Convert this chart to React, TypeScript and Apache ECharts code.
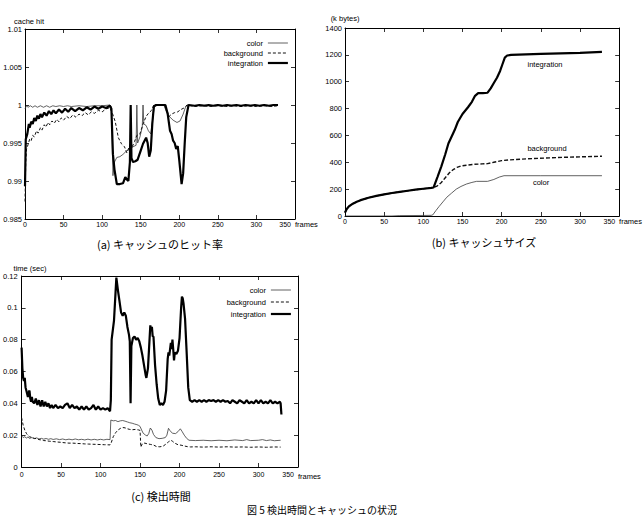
import { useEffect, useRef } from 'react';
import * as echarts from 'echarts';

type P = [number, number];

// ---------- (a) cache hit ratio ----------
const hitColor: P[] = [
  [0, 0.9995], [2, 0.9999], [4, 0.9997], [7, 0.9999], [10, 0.9997], [13, 0.9999], [16, 0.9997], [20, 0.9999],
  [24, 0.9997], [28, 0.9999], [32, 0.9997], [36, 0.9999], [40, 0.9998], [45, 0.9999], [50, 0.9998], [55, 0.9999],
  [60, 0.9998], [70, 0.9999], [80, 0.9998], [90, 0.9999], [100, 0.9999], [110, 1.0], [112, 0.9998], [114, 0.9907],
  [116, 0.9925], [119, 0.9931], [123, 0.9932], [127, 0.9935], [132, 0.994], [136, 0.9942], [140, 0.9945], [144, 0.9947],
  [145, 1.0], [146, 0.995], [149, 0.9958], [152, 0.9971], [153, 1.0], [154, 0.9975], [157, 0.9973], [160, 0.9966],
  [163, 0.9962], [166, 0.9985], [168, 1.0], [180, 1.0], [183, 0.9992], [187, 0.9985], [192, 0.998], [197, 0.9977],
  [201, 0.9979], [205, 0.9988], [208, 0.9997], [211, 1.0], [220, 0.9999], [230, 1.0], [240, 0.9999], [250, 1.0],
  [260, 0.9999], [270, 1.0], [280, 0.9999], [290, 1.0], [300, 0.9999], [310, 1.0], [320, 0.9999], [328, 1.0],
];
const hitBackground: P[] = [
  [0, 0.9873], [1, 0.9925], [2, 0.9942], [4, 0.9948], [6, 0.9955], [8, 0.9953], [10, 0.996], [12, 0.9958],
  [15, 0.9966], [17, 0.9963], [20, 0.997], [22, 0.9967], [25, 0.9974], [27, 0.9971], [30, 0.9977], [32, 0.9974],
  [35, 0.9979], [38, 0.9976], [41, 0.9981], [44, 0.9978], [47, 0.9983], [50, 0.998], [54, 0.9985], [58, 0.9982],
  [62, 0.9987], [66, 0.9984], [70, 0.9988], [74, 0.9986], [78, 0.999], [82, 0.9987], [86, 0.9991], [90, 0.9989],
  [95, 0.9993], [100, 0.9991], [105, 0.9995], [110, 0.9996], [113, 0.999], [117, 0.9978], [121, 0.9957], [125, 0.9949],
  [129, 0.9945], [132, 0.9937], [134, 0.9942], [136, 0.9948], [139, 0.9945], [142, 0.9952], [145, 0.996], [149, 0.9962],
  [153, 0.9975], [157, 0.9985], [160, 0.9989], [164, 0.9993], [167, 1.0], [180, 1.0], [183, 0.9995], [187, 0.9985],
  [190, 0.9988], [194, 0.999], [198, 0.9991], [202, 0.9994], [206, 0.9996], [210, 1.0], [220, 0.9998], [230, 0.9999],
  [240, 0.9998], [250, 0.9999], [260, 0.9998], [270, 0.9999], [280, 0.9998], [290, 0.9999], [300, 0.9998], [310, 0.9999],
  [320, 0.9998], [328, 0.9999],
];
const hitIntegration: P[] = [
  [0, 0.9893], [1, 0.9955], [3, 0.9962], [5, 0.9975], [6, 0.997], [8, 0.9978], [10, 0.9975], [12, 0.9983],
  [14, 0.9979], [16, 0.9986], [18, 0.9982], [20, 0.9988], [22, 0.9984], [25, 0.999], [28, 0.9986], [31, 0.9992],
  [34, 0.9988], [37, 0.9993], [40, 0.9989], [44, 0.9994], [48, 0.999], [52, 0.9995], [56, 0.9991], [60, 0.9996],
  [65, 0.9992], [70, 0.9996], [75, 0.9993], [80, 0.9997], [85, 0.9994], [90, 0.9998], [95, 0.9995], [100, 0.9998],
  [105, 0.9996], [110, 0.9999], [112, 0.9995], [114, 0.9935], [116, 0.9915], [119, 0.9896], [123, 0.9896], [127, 0.9897],
  [130, 0.9905], [132, 0.9902], [134, 0.99], [136, 0.9925], [137, 1.0], [138, 0.993], [140, 0.9925], [143, 0.9926],
  [146, 0.9928], [150, 0.994], [153, 0.9949], [157, 0.9957], [159, 0.995], [161, 0.9932], [163, 0.994], [165, 0.9975],
  [167, 0.9998], [170, 1.0], [182, 1.0], [185, 0.9988], [188, 0.9966], [190, 0.9962], [192, 0.9953], [194, 0.995],
  [196, 0.9942], [198, 0.9946], [200, 0.9927], [203, 0.9896], [205, 0.991], [207, 0.9949], [209, 0.9984], [212, 1.0],
  [220, 0.9999], [226, 1.0], [232, 0.9999], [238, 1.0], [244, 0.9999], [250, 1.0], [256, 0.9999], [262, 1.0],
  [268, 0.9999], [274, 1.0], [280, 0.9999], [286, 1.0], [292, 0.9999], [298, 1.0], [304, 0.9999], [310, 1.0],
  [316, 0.9999], [322, 1.0], [328, 1.0],
];

// ---------- (b) cache size (k bytes) ----------
const sizeColor: P[] = [
  [0, 0], [60, 0], [70, 3], [100, 4], [110, 5], [112, 8], [116, 40], [120, 70], [125, 105], [130, 140], [136, 170],
  [142, 200], [148, 220], [155, 238], [162, 250], [168, 258], [182, 258], [190, 272], [197, 290], [203, 300],
  [250, 300], [328, 300],
];
const sizeBackground: P[] = [
  [0, 25], [2, 50], [5, 72], [10, 92], [15, 106], [20, 118], [30, 136], [40, 150], [50, 161], [60, 171], [70, 180],
  [80, 188], [90, 196], [100, 203], [110, 209], [113, 212], [118, 225], [123, 250], [128, 285], [133, 320], [138, 345],
  [143, 362], [148, 372], [155, 378], [165, 385], [175, 388], [182, 390], [190, 400], [200, 412], [210, 418],
  [240, 428], [280, 437], [328, 445],
];
const sizeIntegration: P[] = [
  [0, 25], [2, 50], [5, 72], [10, 92], [15, 106], [20, 118], [30, 136], [40, 150], [50, 161], [60, 171], [70, 180],
  [80, 188], [90, 196], [100, 203], [110, 209], [113, 212], [118, 290], [123, 370], [128, 460], [132, 540], [136, 590],
  [140, 640], [144, 700], [150, 760], [157, 810], [162, 850], [166, 895], [170, 915], [176, 915], [182, 918],
  [186, 950], [190, 990], [194, 1030], [198, 1080], [201, 1130], [204, 1180], [207, 1195], [212, 1200], [250, 1207],
  [300, 1215], [328, 1222],
];

// ---------- (c) detection time (sec) ----------
const timeColor: P[] = [
  [0, 0.0195], [2, 0.0185], [4, 0.019], [6, 0.0182], [8, 0.0188], [10, 0.018], [13, 0.0185], [16, 0.0178],
  [19, 0.0183], [22, 0.0176], [25, 0.018], [28, 0.0175], [31, 0.0179], [34, 0.0174], [37, 0.0178], [40, 0.0173],
  [44, 0.0177], [48, 0.0172], [52, 0.0176], [56, 0.0171], [60, 0.0175], [64, 0.0171], [68, 0.0176], [72, 0.0171],
  [76, 0.0174], [80, 0.017], [84, 0.0175], [88, 0.017], [92, 0.0174], [96, 0.017], [100, 0.0174], [104, 0.017],
  [108, 0.0174], [112, 0.0172], [113, 0.0295], [116, 0.029], [119, 0.0292], [122, 0.0285], [125, 0.029], [128, 0.0292],
  [131, 0.0288], [134, 0.0283], [137, 0.0278], [140, 0.0275], [143, 0.027], [146, 0.0266], [148, 0.0262], [150, 0.0255],
  [152, 0.0232], [154, 0.0212], [157, 0.02], [159, 0.0195], [161, 0.021], [163, 0.0245], [165, 0.0232], [167, 0.0205],
  [170, 0.0185], [174, 0.0178], [178, 0.018], [182, 0.0185], [184, 0.02], [186, 0.0243], [188, 0.0228], [191, 0.0212],
  [195, 0.021], [198, 0.0222], [201, 0.024], [203, 0.0225], [206, 0.02], [209, 0.018], [212, 0.0168], [220, 0.0166],
  [230, 0.0168], [240, 0.0165], [250, 0.0168], [260, 0.0165], [270, 0.017], [280, 0.0166], [285, 0.0172], [290, 0.0166],
  [300, 0.0168], [305, 0.0172], [310, 0.0166], [315, 0.017], [320, 0.0165], [328, 0.0168],
];
const timeBackground: P[] = [
  [0, 0.031], [2, 0.0262], [4, 0.0232], [6, 0.0212], [8, 0.0198], [10, 0.019], [13, 0.0186], [16, 0.018],
  [19, 0.0178], [22, 0.0172], [25, 0.017], [28, 0.0166], [31, 0.0165], [35, 0.0162], [40, 0.016], [45, 0.0157],
  [50, 0.0155], [55, 0.0152], [60, 0.015], [65, 0.015], [70, 0.0148], [75, 0.0147], [80, 0.0145], [85, 0.0144],
  [90, 0.0143], [95, 0.0142], [100, 0.0141], [105, 0.014], [112, 0.0139], [113, 0.0145], [116, 0.019], [119, 0.0215],
  [122, 0.0232], [125, 0.0242], [128, 0.0248], [131, 0.0246], [134, 0.024], [137, 0.0236], [140, 0.0234], [144, 0.0236],
  [148, 0.0233], [150, 0.023], [151, 0.0125], [153, 0.0148], [156, 0.015], [159, 0.0146], [163, 0.0142], [167, 0.0138],
  [171, 0.0128], [175, 0.0127], [179, 0.013], [183, 0.0145], [186, 0.0158], [189, 0.0168], [191, 0.0162], [194, 0.015],
  [198, 0.014], [202, 0.0137], [206, 0.0132], [210, 0.0128], [214, 0.0126], [220, 0.0127], [230, 0.0125], [240, 0.0127],
  [250, 0.0125], [260, 0.0127], [270, 0.0125], [280, 0.0126], [290, 0.0124], [300, 0.0126], [310, 0.0124], [320, 0.0126],
  [328, 0.0125],
];
const timeIntegration: P[] = [
  [0, 0.075], [1, 0.062], [2, 0.056], [3, 0.054], [4, 0.056], [5, 0.05], [6, 0.048], [7, 0.046], [8, 0.044],
  [9, 0.047], [10, 0.048], [11, 0.043], [12, 0.041], [13, 0.044], [14, 0.041], [16, 0.04], [18, 0.043], [20, 0.039],
  [22, 0.042], [24, 0.038], [26, 0.042], [28, 0.038], [30, 0.041], [32, 0.038], [34, 0.04], [36, 0.037], [38, 0.039],
  [40, 0.037], [43, 0.039], [46, 0.037], [49, 0.038], [52, 0.037], [55, 0.039], [58, 0.04], [61, 0.037], [64, 0.039],
  [67, 0.037], [70, 0.038], [73, 0.036], [76, 0.038], [79, 0.036], [82, 0.038], [85, 0.036], [88, 0.037], [91, 0.039],
  [94, 0.036], [97, 0.038], [100, 0.036], [103, 0.037], [106, 0.036], [109, 0.037], [112, 0.035], [113, 0.042],
  [114, 0.08], [117, 0.092], [119, 0.11], [120, 0.119], [122, 0.111], [124, 0.104], [126, 0.097], [128, 0.095],
  [130, 0.097], [132, 0.095], [134, 0.088], [136, 0.083], [137, 0.079], [138, 0.04], [139, 0.076], [141, 0.081],
  [143, 0.082], [145, 0.08], [147, 0.081], [149, 0.079], [151, 0.075], [153, 0.07], [155, 0.064], [157, 0.058],
  [158, 0.056], [160, 0.062], [162, 0.08], [163, 0.089], [164, 0.086], [165, 0.088], [166, 0.082], [167, 0.082],
  [169, 0.064], [171, 0.052], [173, 0.043], [175, 0.039], [177, 0.04], [179, 0.039], [181, 0.041], [183, 0.048],
  [185, 0.068], [186, 0.072], [187, 0.07], [189, 0.078], [190, 0.074], [191, 0.08], [192, 0.074], [193, 0.067],
  [194, 0.072], [196, 0.071], [198, 0.073], [200, 0.081], [202, 0.1], [203, 0.107], [204, 0.106], [205, 0.103],
  [207, 0.093], [209, 0.072], [211, 0.05], [213, 0.042], [216, 0.041], [219, 0.042], [222, 0.041], [225, 0.042],
  [228, 0.041], [231, 0.042], [234, 0.041], [237, 0.042], [240, 0.0415], [243, 0.042], [246, 0.041], [249, 0.042],
  [252, 0.041], [255, 0.042], [258, 0.041], [261, 0.0415], [264, 0.04], [267, 0.042], [270, 0.041], [273, 0.04],
  [276, 0.042], [279, 0.041], [282, 0.04], [285, 0.042], [288, 0.04], [291, 0.041], [294, 0.04], [297, 0.042],
  [300, 0.04], [303, 0.042], [306, 0.04], [309, 0.041], [312, 0.04], [315, 0.042], [318, 0.04], [321, 0.041],
  [324, 0.04], [327, 0.041], [328, 0.04], [329, 0.033],
];

const seriesNames = ['color', 'background', 'integration'];
const captionA = '(a) キャッシュのヒット率';
const captionB = '(b) キャッシュサイズ';
const captionC = '(c) 検出時間';
const captionFig = '図 5 検出時間とキャッシュの状況';

const FONT = '"Liberation Sans", Arial, Helvetica, sans-serif';
const JP = '"Noto Sans CJK JP", "Noto Sans CJK SC", sans-serif';

const thin = { color: '#3a3a3a', width: 0.8 };
const dashed = { color: '#111', width: 1, type: [3, 2] as number[] };
const thick = { color: '#000', width: 2.2 };

interface AxisCfg {
  g: number;
  yMin: number;
  yMax: number;
  yInt: number;
  yName: string;
  yNameGap: number;
  yNamePad: number[];
  yNameAlign: string;
  xNameGap: number;
  xNamePadTop: number;
  xLabelMargin: number;
  yLabelMargin: number;
  plainY?: boolean;
}

function buildAxes(c: AxisCfg) {
  const common = {
    gridIndex: c.g,
    type: 'value',
    splitLine: { show: false },
    axisLine: { show: true, onZero: false, lineStyle: { color: '#000', width: 1 } },
    axisTick: { show: true, inside: true, length: 4, lineStyle: { color: '#000', width: 0.8 } },
  };
  const xCommon = { ...common, min: 0, max: 350, interval: 50 };
  const yCommon = { ...common, min: c.yMin, max: c.yMax, interval: c.yInt };
  const yLabel: any = { fontFamily: FONT, fontSize: 7.5, color: '#000', margin: c.yLabelMargin };
  if (c.plainY) yLabel.formatter = (v: number) => String(v);
  const xAxes = [
    {
      ...xCommon,
      position: 'bottom',
      name: 'frames',
      nameLocation: 'end',
      nameGap: c.xNameGap,
      nameTextStyle: {
        fontFamily: FONT, fontSize: 7.5, color: '#000', align: 'left', verticalAlign: 'top',
        padding: [c.xNamePadTop, 0, 0, 0],
      },
      axisLabel: {
        fontFamily: FONT, fontSize: 7, color: '#000', margin: c.xLabelMargin, alignMaxLabel: 'right',
        formatter: (v: number) => (v === 350 ? '{m|350}' : String(v)),
        rich: { m: { fontFamily: FONT, fontSize: 7, color: '#000', padding: [0, 4, 0, 0] } },
      },
    },
    { ...xCommon, position: 'top', axisLabel: { show: false } },
  ];
  const yAxes = [
    {
      ...yCommon,
      position: 'left',
      name: c.yName,
      nameLocation: 'end',
      nameGap: c.yNameGap,
      nameTextStyle: { fontFamily: FONT, fontSize: 7.5, color: '#000', align: c.yNameAlign, padding: c.yNamePad },
      axisLabel: yLabel,
    },
    { ...yCommon, position: 'right', axisLabel: { show: false } },
  ];
  return { xAxes, yAxes };
}

function line(name: string, data: P[], g: number, style: any) {
  return {
    type: 'line',
    name,
    data,
    xAxisIndex: g * 2,
    yAxisIndex: g * 2,
    symbol: 'none',
    showSymbol: false,
    lineStyle: style,
    itemStyle: { color: style.color },
    z: name === 'integration' ? 3 : 2,
  };
}

function legendFor(right: number, top: number, gap: number) {
  const styles: any = {
    color: { width: 0.8, color: '#3a3a3a' },
    background: { width: 1, color: '#111', type: [3, 2] },
    integration: { width: 2.2, color: '#000' },
  };
  return {
    orient: 'vertical',
    align: 'right',
    right,
    top,
    padding: 0,
    itemGap: gap,
    itemWidth: 20,
    itemHeight: 8,
    selectedMode: false,
    textStyle: { fontFamily: FONT, fontSize: 7.5, color: '#000' },
    data: seriesNames.map((n) => ({
      name: n,
      lineStyle: styles[n],
      itemStyle: { color: 'transparent', borderWidth: 0, opacity: 0 },
    })),
  };
}

function textEl(text: string, x: number, y: number, size: number, family: string) {
  return {
    type: 'text',
    x,
    y,
    style: {
      text,
      fill: '#000',
      font: `${size}px ${family}`,
      align: 'center',
      verticalAlign: 'middle',
      textAlign: 'center',
      textVerticalAlign: 'middle',
    },
  };
}

export default function App() {
  const ref = useRef<HTMLDivElement>(null);
  useEffect(() => {
    if (!ref.current) return;
    const chart = echarts.init(ref.current, undefined, { renderer: 'svg' });

    const a = buildAxes({
      g: 0, yMin: 0.985, yMax: 1.01, yInt: 0.005, yName: 'cache hit', yNameGap: 4,
      yNamePad: [0, 0, 0, -11], yNameAlign: 'left', xNameGap: -1, xNamePadTop: 1, xLabelMargin: 2, yLabelMargin: 3,
    });
    const b = buildAxes({
      g: 1, yMin: 0, yMax: 1400, yInt: 200, yName: '(k bytes)', yNameGap: 6,
      yNamePad: [0, 0, 0, 0], yNameAlign: 'center', xNameGap: -3, xNamePadTop: 1, xLabelMargin: 2, yLabelMargin: 3,
      plainY: true,
    });
    const c = buildAxes({
      g: 2, yMin: 0, yMax: 0.12, yInt: 0.02, yName: 'time (sec)', yNameGap: 4,
      yNamePad: [0, 0, 0, -8], yNameAlign: 'left', xNameGap: -2, xNamePadTop: 5, xLabelMargin: 4, yLabelMargin: 4,
    });

    const option: any = {
      animation: false,
      backgroundColor: '#fff',
      textStyle: { fontFamily: FONT },
      grid: [
        { left: 25, top: 29, width: 270, height: 190 },
        { left: 345, top: 28, width: 277, height: 188 },
        { left: 21, top: 276, width: 277, height: 191 },
      ],
      xAxis: [...a.xAxes, ...b.xAxes, ...c.xAxes],
      yAxis: [...a.yAxes, ...b.yAxes, ...c.yAxes],
      legend: [legendFor(354, 39, 2), legendFor(351, 286, 4)],
      series: [
        line('color', hitColor, 0, thin),
        line('background', hitBackground, 0, dashed),
        line('integration', hitIntegration, 0, thick),
        line('color', sizeColor, 1, thin),
        line('background', sizeBackground, 1, { color: '#111', width: 1.4, type: [4, 2] }),
        line('integration', sizeIntegration, 1, thick),
        line('color', timeColor, 2, thin),
        line('background', timeBackground, 2, dashed),
        line('integration', timeIntegration, 2, thick),
      ],
      graphic: [
        textEl('integration', 545, 64, 7.5, FONT),
        textEl('background', 547, 148, 7.5, FONT),
        textEl('color', 541, 182, 7.5, FONT),
        textEl(captionA, 160, 244, 11, JP),
        textEl(captionB, 484, 242, 11, JP),
        textEl(captionC, 161, 496, 11, JP),
        textEl(captionFig, 322, 509, 10, JP),
      ],
    };
    chart.setOption(option);
    return () => chart.dispose();
  }, []);
  return (
    <div
      ref={ref}
      style={{ position: 'absolute', left: 0, top: 0, width: 643, height: 516, background: '#fff' }}
    />
  );
}
